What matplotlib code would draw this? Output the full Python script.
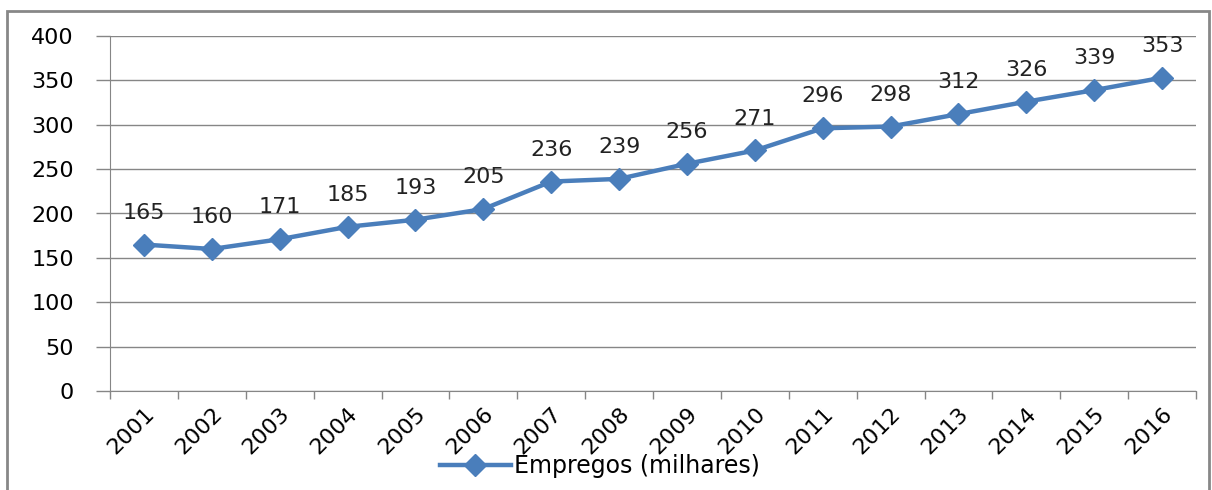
import matplotlib.pyplot as plt
import numpy as np
from matplotlib.patches import Rectangle

# dados
anos = ["2001", "2002", "2003", "2004", "2005", "2006", "2007", "2008",
        "2009", "2010", "2011", "2012", "2013", "2014", "2015", "2016"]
empregos = [165, 160, 171, 185, 193, 205, 236, 239,
            256, 271, 296, 298, 312, 326, 339, 353]

cor = "#4A7EBB"
cinza = "#868686"

plt.rcParams["font.family"] = ["DejaVu Sans"]

fig = plt.figure(figsize=(12.12, 4.9), dpi=100)
ax = fig.add_axes([110 / 1212, 99 / 490, 1086 / 1212, 355 / 490])

x = np.arange(len(anos))
ax.plot(x, empregos, color=cor, lw=3.2, marker="D", markersize=11,
        label="Empregos (milhares)", zorder=3)

for xi, v in zip(x, empregos):
    ax.annotate(str(v), (xi, v), xytext=(0, 23), textcoords="offset points",
                ha="center", va="center", fontsize=16, color="#222222")

ax.set_xlim(-0.5, len(anos) - 0.5)
ax.set_ylim(0, 400)
ax.set_yticks(np.arange(0, 401, 50))
ax.grid(axis="y", color=cinza, lw=1)
ax.set_axisbelow(True)

ax.set_xticks(x)
ax.set_xticklabels(anos, rotation=45, ha="right", rotation_mode="anchor", fontsize=16)
ax.set_xticks(np.arange(-0.5, len(anos), 1), minor=True)
ax.tick_params(axis="x", which="major", length=0, pad=9)
ax.tick_params(axis="x", which="minor", length=6, color=cinza, width=1)
ax.tick_params(axis="y", length=10, color=cinza, width=1, pad=16, labelsize=16)

for s in ["top", "right"]:
    ax.spines[s].set_visible(False)
for s in ["left", "bottom"]:
    ax.spines[s].set_color(cinza)

fig.legend(loc="center", bbox_to_anchor=(600 / 1212, 0.049), frameon=False,
           fontsize=17, handlelength=3.0, handletextpad=0.15)

# moldura
fig.patches.append(Rectangle((7 / 1212, -0.02), 1202 / 1212, (490 - 11) / 490 + 0.02,
                             transform=fig.transFigure, fill=False,
                             edgecolor="#878787", lw=2))

fig.savefig("out.png", dpi=100)
